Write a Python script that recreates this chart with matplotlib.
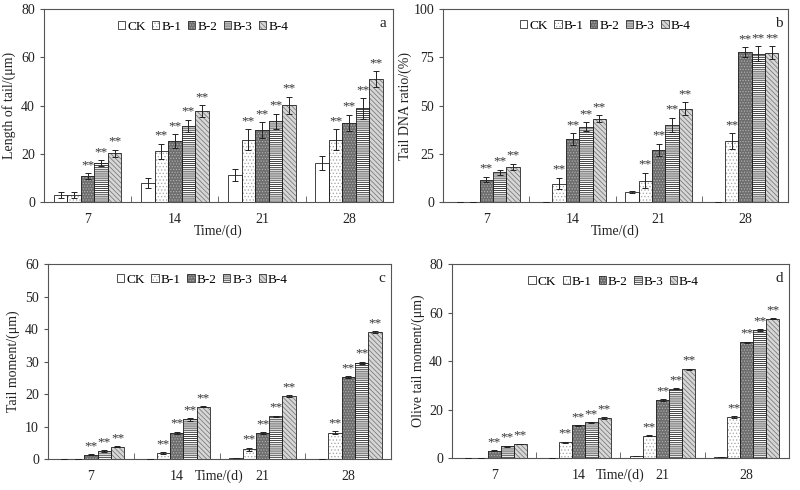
import matplotlib
matplotlib.use('Agg')
import matplotlib.pyplot as plt
import numpy as np
from matplotlib.patches import Patch

plt.rcParams['font.family'] = ['Liberation Serif', 'DejaVu Serif']
plt.rcParams['hatch.linewidth'] = 0.55

# ---------------- data ----------------
days = ['7', '14', '21', '28']
groups = ['CK', 'B-1', 'B-2', 'B-3', 'B-4']

# panel a: length of tail (um)
tail_length = [[2.8, 8.0, 11.1, 16.0],
               [2.8, 21.1, 25.9, 25.9],
               [10.8, 25.1, 29.7, 32.9],
               [16.2, 31.6, 33.4, 38.8],
               [20.2, 37.6, 40.2, 50.9]]
tail_length_err = [[1.1, 2.1, 2.4, 2.9],
                   [1.2, 3.1, 4.2, 4.2],
                   [1.2, 2.9, 3.3, 3.3],
                   [1.1, 2.6, 3.3, 4.2],
                   [1.4, 2.5, 3.5, 3.3]]

# panel b: tail DNA ratio (%)
tail_dna = [[0.1, 0.1, 5.2, 0.1],
            [0.1, 9.5, 11.1, 31.6],
            [11.6, 32.6, 26.9, 77.7],
            [15.3, 39.0, 40.1, 76.9],
            [18.1, 43.2, 48.4, 77.4]]
tail_dna_err = [[0.0, 0.0, 0.5, 0.0],
                [0.0, 3.0, 4.1, 4.0],
                [1.5, 3.1, 3.3, 2.6],
                [1.4, 2.4, 3.6, 3.8],
                [1.7, 1.9, 3.5, 3.3]]

# panel c: tail moment (um)
tail_moment = [[0.1, 0.1, 0.5, 0.1],
               [0.05, 1.9, 3.0, 8.1],
               [1.4, 8.0, 7.9, 25.2],
               [2.4, 12.2, 13.2, 29.7],
               [3.8, 16.1, 19.4, 39.0]]
tail_moment_err = [[0.0, 0.0, 0.0, 0.0],
                   [0.0, 0.3, 0.5, 0.5],
                   [0.2, 0.4, 0.3, 0.3],
                   [0.3, 0.4, 0.2, 0.3],
                   [0.2, 0.2, 0.2, 0.3]]

# panel d: olive tail moment (um)
olive_moment = [[0.2, 0.2, 0.7, 0.3],
                [0.1, 6.5, 9.3, 16.9],
                [3.0, 13.5, 23.9, 47.7],
                [4.9, 14.7, 28.6, 52.9],
                [5.8, 16.5, 36.6, 57.5]]
olive_moment_err = [[0.0, 0.0, 0.0, 0.0],
                    [0.0, 0.3, 0.2, 0.3],
                    [0.2, 0.2, 0.3, 0.3],
                    [0.2, 0.2, 0.2, 0.3],
                    [0.1, 0.3, 0.3, 0.3]]

# significance marks (per group, per day)
sig_a = [[0, 0, 0, 0], [0, 1, 1, 1], [1, 1, 1, 1], [1, 1, 1, 1], [1, 1, 1, 1]]
sig_b = [[0, 0, 0, 0], [0, 1, 1, 1], [1, 1, 1, 1], [1, 1, 1, 1], [1, 1, 1, 1]]
sig_c = [[0, 0, 0, 0], [0, 1, 1, 1], [1, 1, 1, 1], [1, 1, 1, 1], [1, 1, 1, 1]]
sig_d = [[0, 0, 0, 0], [0, 1, 1, 1], [1, 1, 1, 1], [1, 1, 1, 1], [1, 1, 1, 1]]

# ---------------- styles ----------------
styles = [
    dict(fc='white', hc='white', hatch=None),
    dict(fc='white', hc='#a8a8a8', hatch='.....'),
    dict(fc='#6e6e6e', hc='#b0b0b0', hatch='......'),
    dict(fc='white', hc='#111111', hatch='--------'),
    dict(fc='#d6d6d6', hc='#777777', hatch='\\\\\\\\\\\\\\'),
]

fig = plt.figure(figsize=(8, 4.9), dpi=100)

panels = [
    dict(rect=[0.055, 0.588, 0.436, 0.393], vals=tail_length, errs=tail_length_err,
         sig=sig_a, ymax=80, step=20, ylabel='Length of tail/(μm)', tag='a',
         leg=(0.456, 0.91), xlpad=-1, ylpad=4),
    dict(rect=[0.554, 0.588, 0.431, 0.393], vals=tail_dna, errs=tail_dna_err,
         sig=sig_b, ymax=100, step=25, ylabel='Tail DNA ratio/(%)', tag='b',
         leg=(0.47, 0.915), xlpad=-1, ylpad=1),
    dict(rect=[0.060, 0.063, 0.429, 0.398], vals=tail_moment, errs=tail_moment_err,
         sig=sig_c, ymax=60, step=10, ylabel='Tail moment/(μm)', tag='c',
         leg=(0.45, 0.92), xlpad=-10, ylpad=4),
    dict(rect=[0.565, 0.065, 0.421, 0.396], vals=olive_moment, errs=olive_moment_err,
         sig=sig_d, ymax=80, step=20, ylabel='Olive tail moment/(μm)', tag='d',
         leg=(0.48, 0.91), xlpad=-10, ylpad=3),
]

x = np.arange(len(days))
w = 0.155

for p in panels:
    ax = fig.add_axes(p['rect'])
    handles = []
    for i, (name, st) in enumerate(zip(groups, styles)):
        off = (i - 2) * w
        ax.bar(x + off, p['vals'][i], w, color=st['fc'], edgecolor=st['hc'],
               hatch=st['hatch'], linewidth=0, zorder=2)
        ax.bar(x + off, p['vals'][i], w, fill=False, edgecolor='#222222',
               linewidth=0.6, zorder=3)
        ax.errorbar(x + off, p['vals'][i], yerr=p['errs'][i], fmt='none',
                    ecolor='#222222', elinewidth=0.7, capsize=2.5, capthick=0.7,
                    zorder=4)
        for j in range(len(days)):
            if p['sig'][i][j]:
                ax.annotate('**', (x[j] + off, p['vals'][i][j] + p['errs'][i][j]),
                            xytext=(0, 1.5), textcoords='offset points',
                            ha='center', va='bottom', fontsize=9.5, color='#333333')
        h1 = Patch(facecolor=st['fc'], edgecolor=st['hc'], hatch=st['hatch'], linewidth=0)
        h2 = Patch(fill=False, edgecolor='#333333', linewidth=0.6)
        handles.append((h1, h2))
    ax.set_xlim(-0.5, 3.5)
    ax.set_ylim(0, p['ymax'])
    ax.set_yticks(np.arange(0, p['ymax'] + 1, p['step']))
    ax.set_xticks(x)
    ax.set_xticklabels(days)
    ax.set_xticks([0.5, 1.5, 2.5], minor=True)
    ax.tick_params(axis='x', which='major', length=0, labelsize=10, pad=8, colors='#222222')
    ax.tick_params(axis='x', which='minor', direction='in', length=4, color='#555555')
    ax.tick_params(axis='y', direction='out', length=3, labelsize=10, color='#555555',
                   labelcolor='#222222')
    for s in ax.spines.values():
        s.set_color('#555555')
        s.set_linewidth(0.8)
    ax.set_ylabel(p['ylabel'], fontsize=10, labelpad=p['ylpad'], color='#222222')
    ax.set_xlabel('Time/(d)', fontsize=10, labelpad=p['xlpad'], color='#222222')
    ax.legend(handles, groups, loc='center', bbox_to_anchor=p['leg'], ncol=5,
              frameon=False, fontsize=9.5, handlelength=0.55, handleheight=0.55,
              handletextpad=0.15, columnspacing=0.5, borderpad=0)
    ax.text(0.972, 0.925, p['tag'], transform=ax.transAxes, ha='center', va='center',
            fontsize=11, color='#222222')

fig.savefig('out.png', dpi=100)
